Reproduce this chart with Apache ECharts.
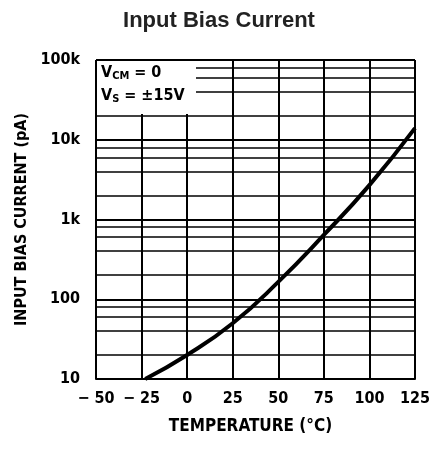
<!DOCTYPE html>
<html>
<head>
<meta charset="utf-8">
<script src="https://cdn.jsdelivr.net/npm/echarts@6/dist/echarts.min.js"></script>
<style>html,body{margin:0;padding:0;background:#fff;}#c{width:438px;height:453px;}</style>
</head>
<body>
<div id="c"></div>
<script>
// Data
var temperatures = [-23, 0, 25, 50, 75, 100, 125];          // °C
var biasCurrent  = [10, 20, 50, 165, 640, 2700, 14000];      // pA
var xTicks = [-50, -25, 0, 25, 50, 75, 100, 125];
var yTickValues = [10, 100, 1000, 10000, 100000];
var yTickLabels = ['10', '100', '1k', '10k', '100k'];
var yMinorGrid = [20, 40, 60, 80, 200, 400, 600, 800, 2000, 4000, 6000, 8000, 20000, 40000, 60000, 80000];

var COND = "'Liberation Sans Narrow', 'DejaVu Sans Condensed', 'Roboto Condensed', sans-serif";
var chart = echarts.init(document.getElementById('c'), null, {renderer: 'canvas'});

var pts = temperatures.map(function (t, i) { return [t, biasCurrent[i]]; });

chart.setOption({
  animation: false,
  backgroundColor: '#fff',
  title: {
    text: 'Input Bias Current',
    left: 'center',
    top: 5,
    textStyle: {fontFamily: "'Liberation Sans', Arial, sans-serif", fontWeight: 'bold', fontSize: 22, color: '#222'}
  },
  grid: {left: 96, right: 23, top: 60, bottom: 74, containLabel: false},
  xAxis: {
    type: 'value', min: -50, max: 125, interval: 25,
    name: 'TEMPERATURE (°C)', nameLocation: 'middle', nameGap: 39,
    nameTextStyle: {fontFamily: COND, fontWeight: 'bold', fontSize: 17, color: '#000', padding: [0, 10, 0, 0]},
    axisLine: {show: true, onZero: false, lineStyle: {color: '#000', width: 2}},
    axisTick: {show: false},
    axisLabel: {
      margin: 12, fontFamily: COND, fontWeight: 'bold', fontSize: 16, color: '#000',
      formatter: function (v) { return v < 0 ? '\u2212 ' + Math.abs(v) : String(v); }
    },
    splitLine: {show: true, lineStyle: {color: '#000', width: 2}}
  },
  yAxis: {
    type: 'log', logBase: 10, min: 10, max: 100000, interval: 1,
    name: 'INPUT BIAS CURRENT (pA)', nameLocation: 'middle', nameGap: 66, nameRotate: 90,
    nameTextStyle: {fontFamily: COND, fontWeight: 'bold', fontSize: 16, color: '#000'},
    axisLine: {show: true, lineStyle: {color: '#000', width: 2}},
    axisTick: {show: false},
    axisLabel: {
      margin: 16, fontFamily: COND, fontWeight: 'bold', fontSize: 16, color: '#000',
      formatter: function (v) {
        var i = yTickValues.indexOf(Math.round(v));
        return i >= 0 ? yTickLabels[i] : '';
      }
    },
    splitLine: {show: true, lineStyle: {color: '#000', width: 2}}
  },
  series: [{
    type: 'line',
    data: pts,
    smooth: 0.5,
    symbol: 'none',
    lineStyle: {color: '#000', width: 4},
    z: 5,
    markLine: {
      silent: true,
      symbol: 'none',
      label: {show: false},
      lineStyle: {color: '#000', width: 1.6, type: 'solid'},
      data: yMinorGrid.map(function (v) { return {yAxis: v}; })
    }
  }],
  graphic: [
    {type: 'rect', z: 100, shape: {x: 97, y: 61, width: 99, height: 53}, style: {fill: '#fff'}},
    {
      type: 'text', z: 101, left: 101, top: 65,
      style: {
        text: '{a|V}{s|CM}{a| = 0}',
        rich: {
          a: {fontFamily: COND, fontWeight: 'bold', fontSize: 16, color: '#000', lineHeight: 18},
          s: {fontFamily: COND, fontWeight: 'bold', fontSize: 11, color: '#000', lineHeight: 11, verticalAlign: 'bottom'}
        }
      }
    },
    {
      type: 'text', z: 101, left: 101, top: 88,
      style: {
        text: '{a|V}{s|S}{a| = \u00B115V}',
        rich: {
          a: {fontFamily: COND, fontWeight: 'bold', fontSize: 16, color: '#000', lineHeight: 18},
          s: {fontFamily: COND, fontWeight: 'bold', fontSize: 11, color: '#000', lineHeight: 11, verticalAlign: 'bottom'}
        }
      }
    }
  ]
});
</script>
</body>
</html>
